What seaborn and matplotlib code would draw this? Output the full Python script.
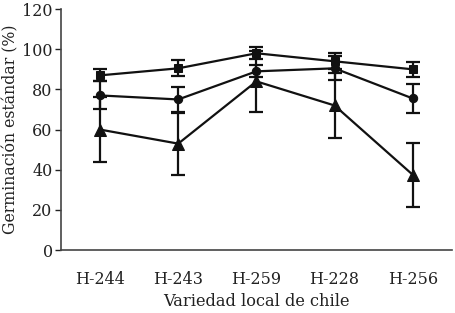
import matplotlib
matplotlib.use("Agg")
import matplotlib.pyplot as plt
import seaborn as sns
import pandas as pd
import numpy as np

categories = ["H-244", "H-243", "H-259", "H-228", "H-256"]
sq_vals = [87, 90.5, 98, 94, 90]
sq_err = [3, 4, 3, 4, 3.8]
ci_vals = [77, 75, 89, 90.5, 75.5]
ci_err = [7, 6, 3, 6, 7]
tr_vals = [60, 53, 84, 72, 37.5]
tr_err = [16, 15.5, 15, 16, 16]

sns.set_theme(style="ticks")
plt.rcParams['font.family'] = ['DejaVu Serif']

fig = plt.figure(figsize=(4.55, 3.13), dpi=100)
ax = fig.add_axes([0.134, 0.201, 0.859, 0.770])

x = np.arange(len(categories))
for vals, errs, mk, ms in [(sq_vals, sq_err, "s", 6), (ci_vals, ci_err, "o", 6), (tr_vals, tr_err, "^", 8)]:
    df = pd.DataFrame({"x": x, "y": vals})
    sns.lineplot(data=df, x="x", y="y", ax=ax, color="#111111", marker=mk,
                 markersize=ms, linewidth=1.6, markeredgecolor="#111111")
    ax.errorbar(x, vals, yerr=errs, fmt="none", ecolor="#111111", elinewidth=1.6,
                capsize=5, capthick=1.6)

ax.set_xlim(-0.5, 4.5)
ax.set_ylim(0, 120)
ax.set_yticks(range(0, 121, 20))
ax.set_xticks(x)
ax.set_xticklabels(categories)
ax.tick_params(axis="x", length=0, pad=15, labelsize=11.5, colors="#222222")
ax.tick_params(axis="y", length=4, width=1, labelsize=11.5, pad=2, colors="#222222")
ax.set_xlabel("Variedad local de chile", fontsize=11.7, labelpad=4, color="#222222")
ax.set_ylabel("Germinación estándar (%)", fontsize=11.3, labelpad=2, color="#222222")
for s in ["top", "right"]:
    ax.spines[s].set_visible(False)
for s in ["left", "bottom"]:
    ax.spines[s].set_color("#444444")
    ax.spines[s].set_linewidth(1.2)

fig.savefig("out.png", dpi=100)
